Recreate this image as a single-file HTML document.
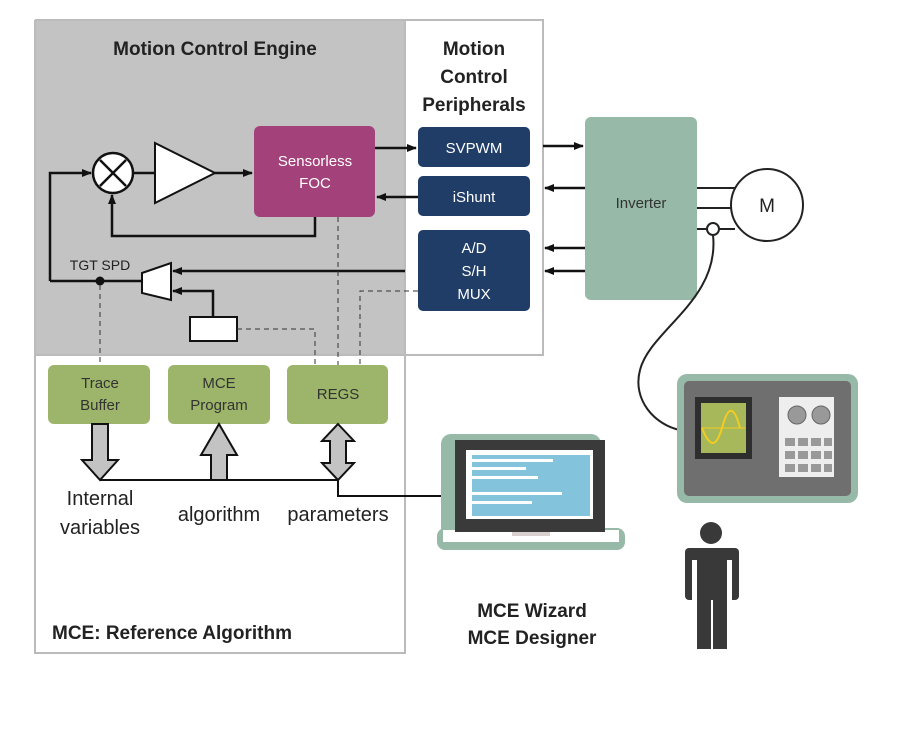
<!DOCTYPE html>
<html><head><meta charset="utf-8"><style>body{margin:0;background:#fff}svg{display:block}text{font-family:"Liberation Sans",sans-serif}</style></head><body>
<svg width="900" height="738" viewBox="0 0 900 738" xmlns="http://www.w3.org/2000/svg">
<defs><marker id="a" markerWidth="10" markerHeight="8" refX="9" refY="4" orient="auto" markerUnits="userSpaceOnUse"><path d="M0,0L10,4L0,8z" fill="#111"/></marker></defs>
<rect x="35" y="20" width="370" height="335" fill="#c3c3c3"/>
<rect x="405" y="20" width="138" height="335" fill="#fff" stroke="#bbb" stroke-width="2"/>
<rect x="35" y="355" width="370" height="298" fill="#fff" stroke="#bbb" stroke-width="2"/>
<line x1="35" y1="20" x2="405" y2="20" stroke="#bbb" stroke-width="2"/>
<line x1="35" y1="20" x2="35" y2="355" stroke="#bbb" stroke-width="2"/>
<text x="215" y="55" font-size="19" font-weight="bold" text-anchor="middle" fill="#222">Motion Control Engine</text>
<g font-size="19" font-weight="bold" text-anchor="middle" fill="#222"><text x="474" y="55">Motion</text><text x="474" y="83">Control</text><text x="474" y="111">Peripherals</text></g>
<rect x="254" y="126" width="121" height="91" rx="6" fill="#a2417a"/>
<text x="315" y="166" font-size="15" fill="#fff" text-anchor="middle">Sensorless</text><text x="315" y="188" font-size="15" fill="#fff" text-anchor="middle">FOC</text>
<g fill="#1f3d66"><rect x="418" y="127" width="112" height="40" rx="5"/><rect x="418" y="176" width="112" height="40" rx="5"/><rect x="418" y="230" width="112" height="81" rx="5"/></g>
<g fill="#fff" font-size="15" text-anchor="middle"><text x="474" y="153">SVPWM</text><text x="474" y="202">iShunt</text><text x="474" y="253">A/D</text><text x="474" y="276">S/H</text><text x="474" y="299">MUX</text></g>
<g stroke="#111" stroke-width="2.5" fill="none">
<circle cx="113" cy="173" r="20" fill="#fff"/><path d="M100,160L126,186M126,160L100,186"/>
<path d="M155,143L215,173L155,203z" fill="#fff" stroke-width="2"/>
<path d="M133,173H155"/><path d="M215,173H252" marker-end="url(#a)"/>
<path d="M50,281V173H91" marker-end="url(#a)"/>
<path d="M315,217V236H112V195" marker-end="url(#a)"/>
<path d="M375,148H416" marker-end="url(#a)"/><path d="M418,197H377" marker-end="url(#a)"/>
<path d="M142,273L171,263V300L142,293z" fill="#fff" stroke-width="2"/>
<path d="M142,281H50"/><path d="M405,271H173" marker-end="url(#a)"/>
<path d="M213,317V291H173" marker-end="url(#a)"/>
<rect x="190" y="317" width="47" height="24" fill="#fff" stroke-width="2"/>
<path d="M543,146H583" marker-end="url(#a)"/><path d="M585,188H545" marker-end="url(#a)"/>
<path d="M585,248H545" marker-end="url(#a)"/><path d="M585,271H545" marker-end="url(#a)"/>
</g>
<circle cx="100" cy="281" r="4.5" fill="#111"/>
<text x="100" y="270" font-size="14" text-anchor="middle" fill="#222">TGT SPD</text>
<g stroke="#333" stroke-width="1" stroke-dasharray="5,4" fill="none">
<path d="M100,285V365"/><path d="M237,329H315V365"/><path d="M338,217V365"/><path d="M418,291H360V365"/>
</g>
<g fill="#9cb56a"><rect x="48" y="365" width="102" height="59" rx="6"/><rect x="168" y="365" width="102" height="59" rx="6"/><rect x="287" y="365" width="101" height="59" rx="6"/></g>
<g font-size="15" fill="#333" text-anchor="middle"><text x="100" y="388">Trace</text><text x="100" y="410">Buffer</text><text x="219" y="388">MCE</text><text x="219" y="410">Program</text><text x="338" y="399">REGS</text></g>
<g fill="#c3c3c3" stroke="#111" stroke-width="2">
<path d="M92,424H108V460H118L100,480L82,460H92z"/>
<path d="M211,480V455H201L219,424L237,455H227V480z"/>
<path d="M338,424L354,441H346V463H354L338,480L322,463H330V441H322z"/>
</g>
<path d="M100,480H338V496H450" stroke="#111" stroke-width="2" fill="none"/>
<g font-size="20" fill="#222" text-anchor="middle"><text x="100" y="505">Internal</text><text x="100" y="534">variables</text><text x="219" y="521">algorithm</text><text x="338" y="521">parameters</text></g>
<text x="52" y="639" font-size="19" font-weight="bold" fill="#222">MCE: Reference Algorithm</text>
<rect x="585" y="117" width="112" height="183" rx="6" fill="#97baa8"/>
<text x="641" y="208" font-size="15" fill="#333" text-anchor="middle">Inverter</text>
<g stroke="#222" stroke-width="2" fill="none"><path d="M697,188H740M697,208H732M697,229H707M719,229H735"/><circle cx="767" cy="205" r="36" fill="#fff"/><circle cx="713" cy="229" r="6" fill="#fff"/><path d="M713,235C720,300 650,330 640,370C632,400 655,425 680,430"/></g>
<text x="767" y="212" font-size="19" fill="#222" text-anchor="middle">M</text>
<rect x="441" y="434" width="160" height="104" rx="10" fill="#97baa8"/>
<rect x="437" y="528" width="188" height="22" rx="8" fill="#97baa8"/>
<rect x="443" y="530" width="176" height="12" fill="#fff"/>
<rect x="455" y="440" width="150" height="92" fill="#3b3a3a"/>
<rect x="466" y="450" width="127" height="69" fill="#fff"/>
<rect x="472" y="455" width="118" height="61" fill="#84c3dc"/>
<g fill="#fff"><rect x="472" y="459" width="81" height="3"/><rect x="472" y="467" width="54" height="3"/><rect x="472" y="476" width="66" height="3"/><rect x="472" y="492" width="90" height="3"/><rect x="472" y="501" width="60" height="3"/></g>
<rect x="512" y="532" width="38" height="4" fill="#d9cfcf"/>
<g font-size="19" font-weight="bold" fill="#222" text-anchor="middle"><text x="532" y="617">MCE Wizard</text><text x="532" y="644">MCE Designer</text></g>
<rect x="677" y="374" width="181" height="129" rx="10" fill="#97baa8"/>
<rect x="684" y="381" width="167" height="115" rx="5" fill="#6f6f6f"/>
<rect x="695" y="397" width="57" height="62" fill="#2e2e2e"/>
<rect x="701" y="403" width="45" height="50" fill="#a6b859"/>
<path d="M702,428C710,448 716,448 722,428C728,405 734,405 740,428" stroke="#f3cc22" stroke-width="2" fill="none"/>
<line x1="702" y1="428" x2="745" y2="428" stroke="#f3cc22" stroke-width="1"/>
<rect x="779" y="397" width="55" height="80" fill="#eee"/>
<circle cx="797" cy="415" r="9" fill="#999" stroke="#666"/><circle cx="821" cy="415" r="9" fill="#999" stroke="#666"/>
<g fill="#999"><rect x="785" y="438" width="10" height="8"/><rect x="798" y="438" width="10" height="8"/><rect x="811" y="438" width="10" height="8"/><rect x="824" y="438" width="8" height="8"/><rect x="785" y="451" width="10" height="8"/><rect x="798" y="451" width="10" height="8"/><rect x="811" y="451" width="10" height="8"/><rect x="824" y="451" width="8" height="8"/><rect x="785" y="464" width="10" height="8"/><rect x="798" y="464" width="10" height="8"/><rect x="811" y="464" width="10" height="8"/><rect x="824" y="464" width="8" height="8"/></g>
<g fill="#3a3939"><circle cx="711" cy="533" r="11"/><rect x="685" y="548" width="54" height="52" rx="4"/><rect x="697" y="560" width="30" height="89"/></g>
<rect x="711" y="600" width="2" height="49" fill="#fff"/>
<rect x="692" y="560" width="5" height="45" fill="#fff"/><rect x="727" y="560" width="5" height="45" fill="#fff"/>
</svg>
</body></html>
